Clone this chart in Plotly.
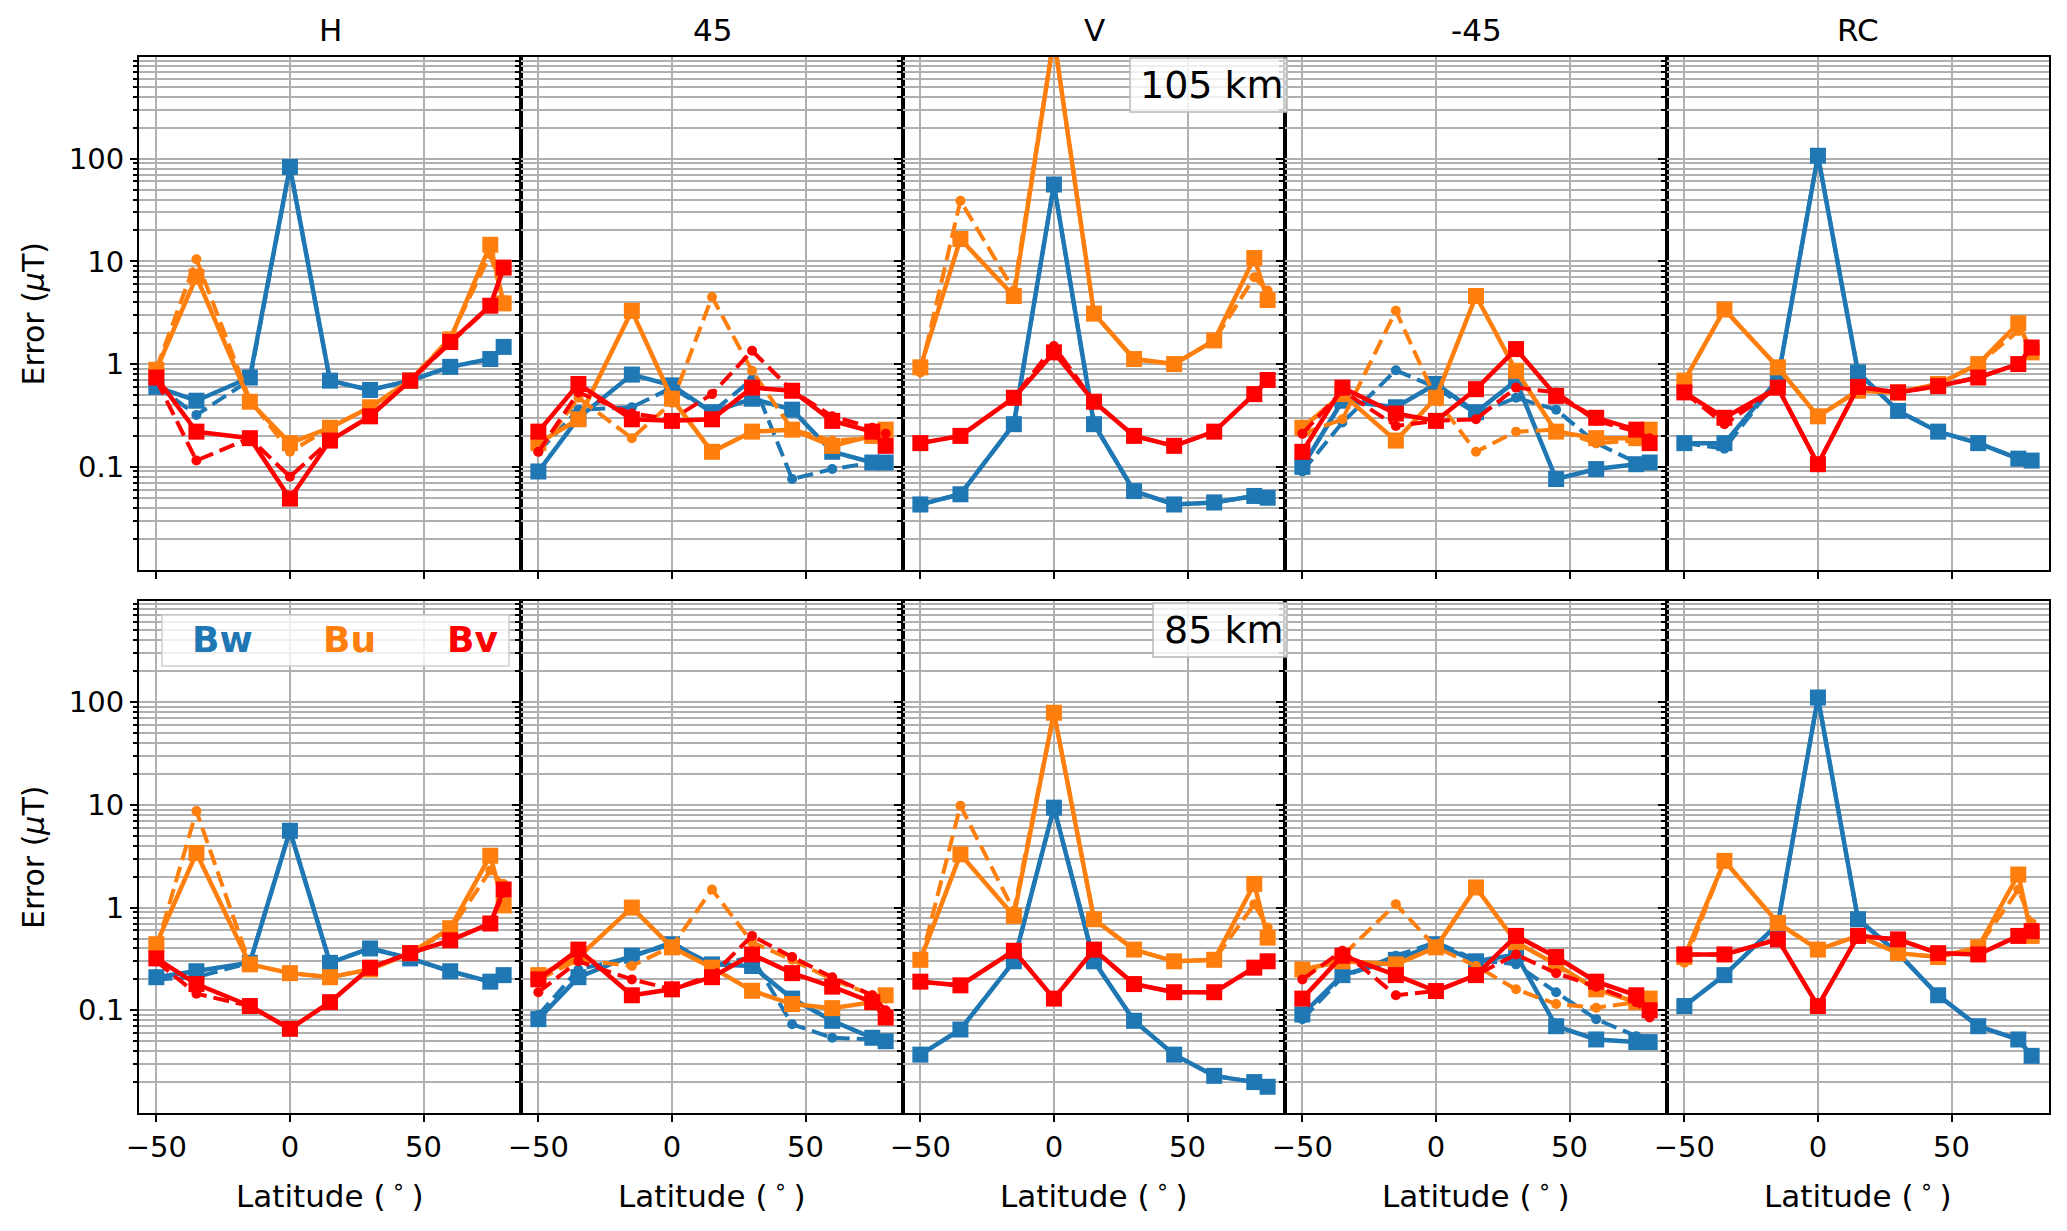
import plotly.graph_objects as go
from plotly.subplots import make_subplots

lat = [-50, -35, -15, 0, 15, 30, 45, 60, 75, 80]
panels = ["H", "45", "V", "-45", "RC"]
heights = ["105 km", "85 km"]

# ---------- 105 km (solid = squares, dash = small dots) ----------
H105_bw = [0.60, 0.44, 0.74, 83, 0.69, 0.56, 0.69, 0.94, 1.12, 1.47]
H105_bw_d = [0.62, 0.32, 0.70, 83, 0.69, 0.56, 0.69, 0.94, 1.12, 1.47]
H105_bu = [0.88, 7.1, 0.43, 0.17, 0.24, 0.38, 0.69, 1.74, 14.5, 3.9]
H105_bu_d = [0.90, 10.5, 0.45, 0.14, 0.24, 0.38, 0.70, 1.8, 11.7, 4.2]
H105_bv = [0.74, 0.22, 0.19, 0.049, 0.18, 0.31, 0.69, 1.64, 3.7, 8.7]
H105_bv_d = [0.70, 0.115, 0.19, 0.08, 0.18, 0.31, 0.69, 1.6, 3.7, 8.5]

P45_105_bw = [0.09, 0.30, 0.79, 0.62, 0.34, 0.46, 0.36, 0.14, 0.11, 0.11]
P45_105_bw_d = [0.14, 0.36, 0.38, 0.59, 0.34, 0.71, 0.076, 0.095, 0.11, 0.11]
P45_105_bu = [0.17, 0.29, 3.3, 0.46, 0.14, 0.22, 0.23, 0.16, 0.20, 0.23]
P45_105_bu_d = [0.14, 0.47, 0.19, 0.42, 4.5, 0.86, 0.23, 0.18, 0.19, 0.22]
P45_105_bv = [0.22, 0.64, 0.29, 0.28, 0.29, 0.59, 0.55, 0.28, 0.22, 0.16]
P45_105_bv_d = [0.14, 0.53, 0.33, 0.29, 0.51, 1.35, 0.55, 0.31, 0.24, 0.21]

V105_bw = [0.043, 0.054, 0.26, 56, 0.26, 0.058, 0.043, 0.045, 0.052, 0.05]
V105_bw_d = [0.043, 0.054, 0.26, 56, 0.26, 0.058, 0.043, 0.045, 0.052, 0.05]
V105_bu = [0.93, 16.5, 4.6, 1500, 3.1, 1.12, 1.0, 1.7, 10.8, 4.2]
V105_bu_d = [0.83, 39, 5.2, 1500, 3.1, 1.12, 1.0, 1.7, 7.0, 5.2]
V105_bv = [0.17, 0.20, 0.47, 1.3, 0.43, 0.20, 0.16, 0.22, 0.51, 0.70]
V105_bv_d = [0.17, 0.20, 0.47, 1.5, 0.43, 0.20, 0.16, 0.22, 0.51, 0.70]

M45_105_bw = [0.10, 0.44, 0.38, 0.64, 0.34, 0.69, 0.076, 0.095, 0.106, 0.11]
M45_105_bw_d = [0.09, 0.27, 0.87, 0.59, 0.33, 0.47, 0.36, 0.17, 0.11, 0.11]
M45_105_bu = [0.24, 0.51, 0.18, 0.47, 4.6, 0.86, 0.22, 0.19, 0.19, 0.23]
M45_105_bu_d = [0.21, 0.29, 3.3, 0.46, 0.14, 0.22, 0.23, 0.17, 0.18, 0.21]
M45_105_bv = [0.14, 0.59, 0.33, 0.28, 0.57, 1.4, 0.49, 0.30, 0.23, 0.17]
M45_105_bv_d = [0.21, 0.55, 0.25, 0.28, 0.29, 0.59, 0.53, 0.28, 0.22, 0.19]

RC105_bw = [0.17, 0.17, 0.71, 107, 0.83, 0.35, 0.22, 0.17, 0.12, 0.115]
RC105_bw_d = [0.17, 0.15, 0.71, 107, 0.83, 0.35, 0.22, 0.17, 0.12, 0.115]
RC105_bu = [0.69, 3.4, 0.93, 0.31, 0.55, 0.53, 0.64, 1.0, 2.5, 1.3]
RC105_bu_d = [0.69, 3.4, 0.93, 0.31, 0.55, 0.53, 0.64, 1.0, 2.1, 1.35]
RC105_bv = [0.53, 0.30, 0.59, 0.106, 0.60, 0.53, 0.61, 0.74, 1.0, 1.45]
RC105_bv_d = [0.53, 0.26, 0.59, 0.106, 0.60, 0.53, 0.61, 0.74, 1.0, 1.45]

# ---------- 85 km ----------
H85_bw = [0.21, 0.24, 0.29, 5.6, 0.29, 0.40, 0.32, 0.24, 0.19, 0.22]
H85_bw_d = [0.20, 0.21, 0.29, 5.6, 0.29, 0.40, 0.32, 0.24, 0.19, 0.22]
H85_bu = [0.44, 3.4, 0.28, 0.23, 0.21, 0.25, 0.36, 0.63, 3.2, 1.05]
H85_bu_d = [0.40, 8.7, 0.28, 0.23, 0.21, 0.25, 0.36, 0.60, 2.3, 1.7]
H85_bv = [0.32, 0.18, 0.11, 0.066, 0.12, 0.26, 0.36, 0.48, 0.70, 1.5]
H85_bv_d = [0.30, 0.145, 0.11, 0.066, 0.12, 0.26, 0.36, 0.48, 0.70, 1.4]

P45_85_bw = [0.082, 0.21, 0.34, 0.44, 0.28, 0.27, 0.13, 0.079, 0.054, 0.05]
P45_85_bw_d = [0.09, 0.25, 0.33, 0.46, 0.27, 0.33, 0.073, 0.054, 0.052, 0.05]
P45_85_bu = [0.22, 0.33, 1.0, 0.41, 0.26, 0.155, 0.115, 0.105, 0.12, 0.14]
P45_85_bu_d = [0.20, 0.31, 0.27, 0.42, 1.5, 0.46, 0.31, 0.20, 0.14, 0.13]
P45_85_bv = [0.20, 0.39, 0.14, 0.16, 0.21, 0.35, 0.23, 0.17, 0.12, 0.085]
P45_85_bv_d = [0.15, 0.30, 0.20, 0.16, 0.22, 0.53, 0.33, 0.21, 0.14, 0.10]

V85_bw = [0.037, 0.065, 0.30, 9.4, 0.30, 0.079, 0.037, 0.023, 0.020, 0.018]
V85_bw_d = [0.037, 0.065, 0.30, 9.4, 0.30, 0.079, 0.037, 0.023, 0.020, 0.018]
V85_bu = [0.31, 3.3, 0.83, 79, 0.77, 0.39, 0.30, 0.31, 1.7, 0.51]
V85_bu_d = [0.29, 9.8, 0.93, 79, 0.77, 0.39, 0.30, 0.31, 1.08, 0.64]
V85_bv = [0.19, 0.175, 0.38, 0.13, 0.39, 0.18, 0.15, 0.15, 0.26, 0.30]
V85_bv_d = [0.19, 0.175, 0.38, 0.13, 0.39, 0.18, 0.15, 0.15, 0.26, 0.30]

M45_85_bw = [0.091, 0.22, 0.31, 0.44, 0.30, 0.35, 0.07, 0.052, 0.049, 0.049]
M45_85_bw_d = [0.082, 0.21, 0.34, 0.46, 0.31, 0.28, 0.15, 0.082, 0.056, 0.049]
M45_85_bu = [0.25, 0.30, 0.28, 0.41, 1.57, 0.46, 0.28, 0.16, 0.12, 0.13]
M45_85_bu_d = [0.22, 0.34, 1.08, 0.41, 0.27, 0.16, 0.115, 0.106, 0.12, 0.11]
M45_85_bv = [0.13, 0.34, 0.22, 0.154, 0.22, 0.53, 0.33, 0.19, 0.14, 0.10]
M45_85_bv_d = [0.20, 0.38, 0.14, 0.154, 0.22, 0.35, 0.23, 0.17, 0.12, 0.085]

RC85_bw = [0.11, 0.22, 0.69, 111, 0.77, 0.36, 0.14, 0.07, 0.052, 0.036]
RC85_bw_d = [0.11, 0.22, 0.69, 111, 0.77, 0.36, 0.14, 0.07, 0.052, 0.036]
RC85_bu = [0.33, 2.85, 0.71, 0.39, 0.53, 0.36, 0.33, 0.41, 2.1, 0.53]
RC85_bu_d = [0.29, 2.85, 0.71, 0.39, 0.53, 0.36, 0.33, 0.41, 1.5, 0.71]
RC85_bv = [0.35, 0.35, 0.49, 0.11, 0.53, 0.49, 0.36, 0.35, 0.53, 0.59]
RC85_bv_d = [0.35, 0.35, 0.49, 0.11, 0.53, 0.49, 0.36, 0.35, 0.53, 0.59]

data = {
    (0, 0): [(H105_bw, H105_bw_d), (H105_bu, H105_bu_d), (H105_bv, H105_bv_d)],
    (0, 1): [(P45_105_bw, P45_105_bw_d), (P45_105_bu, P45_105_bu_d), (P45_105_bv, P45_105_bv_d)],
    (0, 2): [(V105_bw, V105_bw_d), (V105_bu, V105_bu_d), (V105_bv, V105_bv_d)],
    (0, 3): [(M45_105_bw, M45_105_bw_d), (M45_105_bu, M45_105_bu_d), (M45_105_bv, M45_105_bv_d)],
    (0, 4): [(RC105_bw, RC105_bw_d), (RC105_bu, RC105_bu_d), (RC105_bv, RC105_bv_d)],
    (1, 0): [(H85_bw, H85_bw_d), (H85_bu, H85_bu_d), (H85_bv, H85_bv_d)],
    (1, 1): [(P45_85_bw, P45_85_bw_d), (P45_85_bu, P45_85_bu_d), (P45_85_bv, P45_85_bv_d)],
    (1, 2): [(V85_bw, V85_bw_d), (V85_bu, V85_bu_d), (V85_bv, V85_bv_d)],
    (1, 3): [(M45_85_bw, M45_85_bw_d), (M45_85_bu, M45_85_bu_d), (M45_85_bv, M45_85_bv_d)],
    (1, 4): [(RC85_bw, RC85_bw_d), (RC85_bu, RC85_bu_d), (RC85_bv, RC85_bv_d)],
}

comp_names = ["Bw", "Bu", "Bv"]
comp_colors = ["#1f77b4", "#ff7f0e", "#ff0000"]

W, HT = 2067, 1231
# plot area in page pixels; the page body adds an 8px margin, so pull back
OFF = 8
LEFT, RIGHT, TOP, BOTTOM = 139, 2049, 57, 1113
ML, MT = LEFT - OFF, TOP - OFF
MR, MB = W - RIGHT + OFF, HT - BOTTOM + OFF
PW = RIGHT - LEFT
PH = BOTTOM - TOP
PANEL_W = PW / 5
FONT = "DejaVu Sans"


def px_x(px):
    return (px - LEFT) / PW


def px_y(py):
    return (BOTTOM - py) / PH


fig = make_subplots(rows=2, cols=5, horizontal_spacing=0,
                    vertical_spacing=31 / PH)

for r in range(2):
    for c in range(5):
        for (solid, dashed), name, col in zip(data[(r, c)], comp_names, comp_colors):
            fig.add_trace(go.Scatter(
                x=lat, y=solid, mode="lines+markers", name=name,
                line=dict(color=col, width=4.5),
                marker=dict(symbol="square", size=16, color=col),
                showlegend=False), row=r + 1, col=c + 1)
            fig.add_trace(go.Scatter(
                x=lat, y=dashed, mode="lines+markers", name=name,
                line=dict(color=col, width=4, dash="16px,7px"),
                marker=dict(symbol="circle", size=10, color=col),
                showlegend=False), row=r + 1, col=c + 1)

minor_vals = [m * 10 ** e for e in range(-2, 3) for m in range(2, 10)]

fig.update_xaxes(
    range=[-56.5, 86.5], tickvals=[-50, 0, 50],
    showgrid=True, gridcolor="#b0b0b0", gridwidth=1.5, zeroline=False,
    showline=True, linecolor="black", linewidth=2, mirror=True,
    ticks="outside", ticklen=7, tickwidth=1.5, tickcolor="black",
    tickfont=dict(family=FONT, size=29, color="black"))
fig.update_xaxes(showticklabels=False, row=1)

fig.update_yaxes(
    type="log", range=[-2, 2.99],
    tickvals=[0.1, 1, 10, 100], ticktext=["0.1", "1", "10", "100"],
    showgrid=True, gridcolor="#b0b0b0", gridwidth=1.5,
    showline=True, linecolor="black", linewidth=2, mirror=True,
    ticks="outside", ticklen=7, tickwidth=1.5, tickcolor="black",
    tickfont=dict(family=FONT, size=29, color="black"),
    minor=dict(tickvals=minor_vals, showgrid=True, gridcolor="#b0b0b0",
               gridwidth=1.5, ticks="outside", ticklen=4, tickcolor="black"))
for c in range(2, 6):
    fig.update_yaxes(showticklabels=False, col=c)


def note(px, py, text, size, color="black", angle=0):
    return dict(x=px_x(px), y=px_y(py), xref="paper", yref="paper",
                xanchor="center", yanchor="middle", text=text,
                textangle=angle, showarrow=False,
                font=dict(family=FONT, size=size, color=color))


annotations = []
for c, name in enumerate(panels):
    cx = LEFT + PANEL_W * (c + 0.5)
    annotations.append(note(cx, 30, name, 31))
    annotations.append(note(cx, 1194, "Latitude (\u2009<sup>∘</sup>\u2009)", 31))

for cy in [(57 + 570) / 2, (601 + 1113) / 2]:
    annotations.append(note(33, cy, "Error (<i>μ</i>T)", 30, angle=-90))

shapes = []
# altitude boxes in the V panels
for label, (x0, y0, x1, y1) in zip(heights, [(1130, 58, 1287, 112),
                                              (1153, 603, 1287, 657)]):
    shapes.append(dict(type="rect", xref="paper", yref="paper",
                       x0=px_x(x0), x1=px_x(x1), y0=px_y(y1), y1=px_y(y0),
                       fillcolor="rgba(255,255,255,0.8)",
                       line=dict(color="#b8b8b8", width=1.5), layer="above"))
    annotations.append(note((x0 + x1) / 2 + 3, (y0 + y1) / 2, label, 38))

# legend with coloured labels
shapes.append(dict(type="rect", xref="paper", yref="paper",
                   x0=px_x(162), x1=px_x(509), y0=px_y(666), y1=px_y(615),
                   fillcolor="rgba(255,255,255,0.8)",
                   line=dict(color="#d0d0d0", width=1.5), layer="above"))
for name, col, lx in zip(comp_names, comp_colors, [222, 349, 472]):
    annotations.append(note(lx, 639, "<b>%s</b>" % name, 36, color=col))

fig.update_layout(
    width=W, height=HT,
    margin=dict(l=ML, r=MR, t=MT, b=MB, pad=0),
    paper_bgcolor="white", plot_bgcolor="white",
    font=dict(family=FONT, color="black"),
    showlegend=False,
    annotations=annotations, shapes=shapes)

fig.write_html("out.html")
